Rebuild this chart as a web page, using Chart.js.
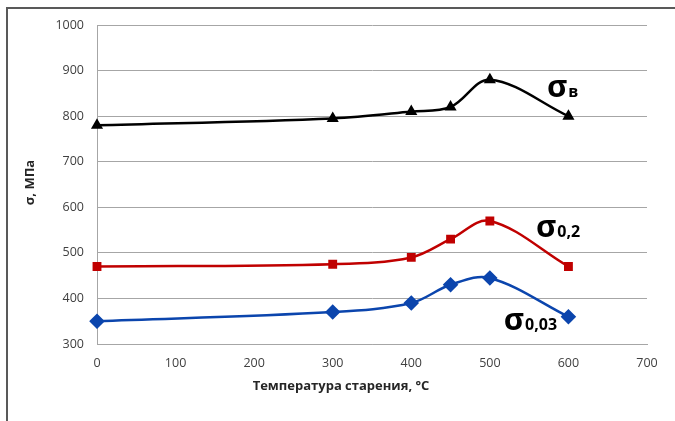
<!DOCTYPE html>
<html>
<head>
<meta charset="utf-8">
<script src="https://cdn.jsdelivr.net/npm/chart.js@4/dist/chart.umd.min.js"></script>
<style>
  html, body { margin: 0; padding: 0; background: #fff; }
  #wrap { position: relative; width: 675px; height: 421px; }
</style>
</head>
<body>
<div id="wrap"><canvas id="c"></canvas></div>
<script>
// Aging temperature, °C
const temperatures = [0, 300, 400, 450, 500, 600];
// Strength values, MPa
const sigmaB    = [780, 795, 810, 820, 880, 800];   // ultimate strength
const sigma02   = [470, 475, 490, 530, 570, 470];   // yield strength 0.2%
const sigma003  = [350, 370, 390, 430, 445, 360];   // proportional limit 0.03%

const xTicks = { min: 0, max: 700, step: 100 };
const yTicks = { min: 300, max: 1000, step: 100 };

const xTitle = 'Температура старения, °C';
const yTitle = 'σ, МПа';

const toPoints = (ys) => temperatures.map((t, i) => ({ x: t, y: ys[i] }));

const FONT = '"Open Sans", "Liberation Sans", sans-serif';

// Curve captions: main symbol plus subscript, anchored in data units
const curveCaptions = [
  { main: 'σ', sub: 'в',    x: 574, y: 842 },
  { main: 'σ', sub: '0,2',  x: 560, y: 535 },
  { main: 'σ', sub: '0,03', x: 519, y: 331 }
];

const decor = {
  id: 'decor',
  afterDraw(chart) {
    const ctx = chart.ctx;
    const xs = chart.scales.x, ys = chart.scales.y;
    ctx.save();
    // outer frame
    ctx.strokeStyle = '#595959';
    ctx.lineWidth = 2;
    ctx.beginPath();
    ctx.moveTo(7, 421);
    ctx.lineTo(7, 8);
    ctx.lineTo(675, 8);
    ctx.stroke();

    // axis titles
    ctx.fillStyle = '#262626';
    ctx.font = 'bold 13px ' + FONT;
    ctx.textAlign = 'center';
    ctx.textBaseline = 'middle';
    ctx.fillText(xTitle, 341, 386);
    ctx.save();
    ctx.translate(30, (chart.chartArea.top + chart.chartArea.bottom) / 2 - 2);
    ctx.rotate(-Math.PI / 2);
    ctx.fillText(yTitle, 0, 0);
    ctx.restore();

    // curve captions
    ctx.fillStyle = '#000';
    ctx.textAlign = 'left';
    ctx.textBaseline = 'alphabetic';
    curveCaptions.forEach(c => {
      const px = xs.getPixelForValue(c.x);
      const py = ys.getPixelForValue(c.y);
      ctx.font = 'bold 31px ' + FONT;
      ctx.fillText(c.main, px - 1, py);
      const w = ctx.measureText(c.main).width;
      ctx.font = 'bold 16px ' + FONT;
      ctx.fillText(c.sub, px + w, py);
    });
    ctx.restore();
  }
};

const common = { borderWidth: 2.5, tension: 0.35, clip: false, fill: false };
const plain = (v) => String(v);

new Chart(document.getElementById('c'), {
  type: 'line',
  data: {
    datasets: [
      Object.assign({ label: 'σв', data: toPoints(sigmaB), borderColor: '#000', backgroundColor: '#000',
        pointStyle: 'triangle', pointRadius: 4.5, pointHoverRadius: 4.5 }, common),
      Object.assign({ label: 'σ0,2', data: toPoints(sigma02), borderColor: '#c00000', backgroundColor: '#c00000',
        pointStyle: 'rect', pointRadius: 4.5, pointHoverRadius: 4.5 }, common),
      Object.assign({ label: 'σ0,03', data: toPoints(sigma003), borderColor: '#0b45ad', backgroundColor: '#0b45ad',
        pointStyle: 'rectRot', pointRadius: 6, pointHoverRadius: 6 }, common)
    ]
  },
  options: {
    responsive: true,
    maintainAspectRatio: false,
    animation: false,
    layout: { padding: { left: 0, right: 28, top: 25, bottom: 0 } },
    plugins: { legend: { display: false }, tooltip: { enabled: false } },
    scales: {
      x: {
        type: 'linear',
        min: xTicks.min, max: xTicks.max,
        ticks: { stepSize: xTicks.step, callback: plain, color: '#404040', font: { family: FONT, size: 12.5 }, padding: 12 },
        grid: { display: false, drawTicks: false },
        border: { display: true, color: '#a6a6a6', width: 1 },
        afterFit(s) { s.height = 77; }
      },
      y: {
        min: yTicks.min, max: yTicks.max,
        ticks: { stepSize: yTicks.step, callback: plain, color: '#404040', font: { family: FONT, size: 12.5 }, padding: 13 },
        grid: { color: '#a6a6a6', lineWidth: 1, drawTicks: false },
        border: { display: true, color: '#a6a6a6', width: 1 },
        afterFit(s) { s.width = 97; }
      }
    }
  },
  plugins: [decor]
});
</script>
</body>
</html>
